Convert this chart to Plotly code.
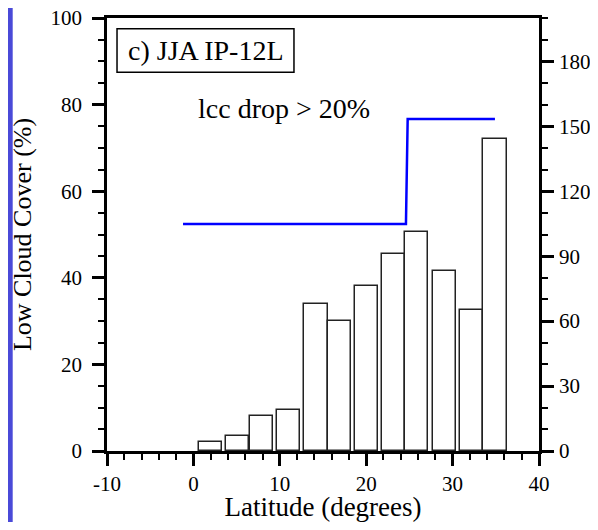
import plotly.graph_objects as go

# Data
lat_centers = [2.0, 5.1, 7.9, 11.0, 14.2, 16.9, 20.0, 23.15, 25.85, 29.05, 32.15, 34.9]
counts = [4, 7, 16, 19, 68, 60, 76, 91, 101, 83, 65, 144]
line_lat = [-1.2, 24.6, 24.8, 34.9]
line_lcc = [52.4, 52.4, 76.7, 76.7]
x_ticks = [-10, 0, 10, 20, 30, 40]
x_tick_labels = ["-10", "0", "10", "20", "30", "40"]
panel_label = "c) JJA IP-12L"
note_label = "lcc drop > 20%"

FONT = "Liberation Serif"

fig = go.Figure()
fig.add_trace(go.Bar(
    x=lat_centers, y=counts, width=[2.7] * len(counts), yaxis="y2",
    marker=dict(color="white", line=dict(color="#222222", width=1.5)),
    showlegend=False,
))
fig.add_trace(go.Scatter(
    x=line_lat, y=line_lcc, mode="lines", yaxis="y",
    line=dict(color="#0000ff", width=2.5), showlegend=False,
))

axis_common = dict(
    showgrid=False, zeroline=False, showline=True, linecolor="black", linewidth=2.5,
    ticks="outside", ticklen=12, tickwidth=2.5, tickcolor="black",
    tickfont=dict(family=FONT, size=21, color="black"),
    ticklabeloverflow="allow",
)

# page body has an 8px margin: figure placed at (8, 8); keep it within the window
fig.update_layout(
    width=590, height=514,
    margin=dict(l=99, r=59, t=10, b=71, autoexpand=False),
    paper_bgcolor="white", plot_bgcolor="white",
    font=dict(family=FONT, color="black"),
    xaxis=dict(
        range=[-10, 40], tickmode="array", tickvals=x_ticks, ticktext=x_tick_labels,
        mirror=True,
        minor=dict(dtick=2, tick0=0, ticks="outside", ticklen=6, tickwidth=1.5, tickcolor="black"),
        title=dict(text="Latitude (degrees)", font=dict(family=FONT, size=27), standoff=3),
        **axis_common,
    ),
    yaxis=dict(
        range=[0, 100], tickmode="array", tickvals=[0, 20, 40, 60, 80, 100],
        ticklabelstandoff=6,
        minor=dict(dtick=5, tick0=0, ticks="outside", ticklen=6, tickwidth=1.5, tickcolor="black"),
        title=dict(text="Low Cloud Cover (%)", font=dict(family=FONT, size=26), standoff=24),
        **axis_common,
    ),
    yaxis2=dict(
        range=[0, 200], overlaying="y", side="right",
        tickmode="array", tickvals=[0, 30, 60, 90, 120, 150, 180],
        ticklabelstandoff=1,
        minor=dict(dtick=10, tick0=0, ticks="outside", ticklen=6, tickwidth=1.5, tickcolor="black"),
        **axis_common,
    ),
    bargap=0,
)

# Panel label box
fig.add_shape(type="rect", xref="x", yref="y", x0=-8.84, x1=11.64, y0=87.5, y1=97.5,
              line=dict(color="black", width=1.5), fillcolor="white", layer="above")
fig.add_annotation(x=1.46, y=92.5, xref="x", yref="y", text=panel_label, showarrow=False,
                   font=dict(family=FONT, size=28, color="black"), xanchor="center", yanchor="middle")
fig.add_annotation(x=10.54, y=79.2, xref="x", yref="y", text=note_label, showarrow=False,
                   font=dict(family=FONT, size=28, color="black"), xanchor="center", yanchor="middle")

# Blue bar on the left page edge
fig.add_shape(type="rect", xref="paper", yref="paper",
              x0=-99 / 432, x1=-94.3 / 432, y0=-71 / 433, y1=(433 + 10) / 433,
              line=dict(width=0), fillcolor="#4a4ad8", layer="above")

fig.write_html("out.html")
